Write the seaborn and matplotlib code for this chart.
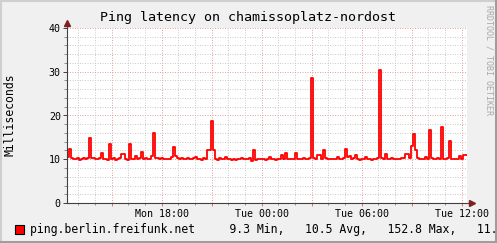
import matplotlib
matplotlib.use("Agg")
import matplotlib.pyplot as plt
import seaborn as sns
import pandas as pd
import numpy as np
from matplotlib.ticker import MultipleLocator, FuncFormatter
from matplotlib.patches import Rectangle
from matplotlib.lines import Line2D

# ---------------- data ----------------
title = "Ping latency on chamissoplatz-nordost"
series_name = "ping.berlin.freifunk.net"
y_label = "Milliseconds"
watermark = "RRDTOOL / TOBI OETIKER"
stats_min = "9.3 Min,"
stats_avg = "10.5 Avg,"
stats_max = "152.8 Max,"
stats_last = "11."

start_hour = 12.32      # Mon 12:19
step_hours = 0.12       # sample spacing

latency_ms = [
    10.4, 12.3, 10.2, 10.1, 10.0, 10.2, 9.9, 10.1, 10.3, 10.0,
    10.2, 14.8, 10.3, 10.2, 10.1, 10.0, 10.2, 11.4, 10.1, 10.0,
    9.9, 13.5, 10.1, 10.2, 9.9, 10.0, 10.2, 11.2, 11.2, 10.0,
    9.9, 13.4, 10.1, 10.0, 10.7, 10.1, 10.2, 11.6, 10.1, 10.2,
    10.1, 10.0, 10.7, 15.9, 10.3, 10.2, 10.1, 10.2, 10.1, 10.0,
    10.1, 10.0, 10.4, 12.7, 10.7, 10.2, 10.1, 10.3, 10.0, 10.1,
    10.2, 10.1, 10.0, 10.2, 10.4, 10.1, 10.0, 9.9, 10.2, 10.1,
    12.0, 12.0, 18.7, 12.0, 10.1, 9.9, 10.2, 10.1, 10.0, 10.4,
    10.1, 10.0, 9.9, 10.0, 9.9, 10.1, 10.0, 10.2, 10.0, 10.1,
    10.0, 10.3, 9.6, 12.0, 9.8, 10.1, 10.0, 10.0, 10.1, 9.9,
    10.0, 10.4, 10.0, 10.0, 9.9, 10.1, 10.0, 11.0, 10.1, 11.4,
    10.0, 10.1, 10.0, 10.0, 11.4, 10.1, 10.0, 10.0, 10.2, 10.1,
    10.0, 10.3, 28.6, 10.2, 10.0, 11.0, 11.0, 10.1, 12.1, 10.2,
    10.0, 10.1, 10.0, 10.1, 10.0, 10.6, 10.1, 10.0, 10.2, 12.3,
    10.4, 10.8, 10.1, 10.2, 10.9, 10.1, 9.9, 10.0, 10.1, 10.5,
    10.0, 10.1, 9.9, 10.0, 10.1, 10.2, 30.4, 10.3, 10.0, 11.1,
    10.1, 10.0, 10.2, 10.0, 10.1, 10.0, 10.1, 10.2, 10.3, 11.1,
    11.1, 10.2, 13.0, 15.8, 12.0, 10.2, 10.1, 10.0, 10.1, 10.6,
    10.1, 16.7, 10.2, 10.1, 10.0, 10.2, 10.1, 17.4, 10.1, 10.0,
    10.2, 14.2, 10.1, 10.0, 10.1, 10.0, 10.7, 10.1, 10.9, 10.9,
]

tick_hours = [18, 24, 30, 36]
tick_labels = ["Mon 18:00", "Tue 00:00", "Tue 06:00", "Tue 12:00"]
y_ticks = [0, 10, 20, 30, 40]

# ---------------- figure ----------------
W, H = 497, 243
DPI = 100
mono = "DejaVu Sans Mono"
plt.rcParams["font.family"] = [mono]

fig = plt.figure(figsize=(W / DPI, H / DPI), dpi=DPI, facecolor="#F0F0F0")
ax = fig.add_axes([67 / W, 40 / H, 400 / W, 175 / H])
ax.set_facecolor("#FFFFFF")

n = len(latency_ms)
hours = start_hour + step_hours * np.arange(n + 1)
vals = latency_ms + [latency_ms[-1]]
df = pd.DataFrame({"hour": hours, "ms": vals})
sns.lineplot(data=df, x="hour", y="ms", ax=ax, color="#FF0000", linewidth=1.3,
             drawstyle="steps-post", estimator=None, sort=False, zorder=5)
for ln in ax.lines:
    ln.set_color("#FF0000")
    ln.set_alpha(1.0)
    ln.set_linewidth(1.3)
    ln.set_antialiased(True)

x0, x1 = start_hour, start_hour + 24.0
ax.set_xlim(x0, x1)
ax.set_ylim(y_ticks[0], y_ticks[-1])

# grid
ax.xaxis.set_major_locator(MultipleLocator(3))
ax.xaxis.set_minor_locator(MultipleLocator(1))
ax.yaxis.set_major_locator(MultipleLocator(10))
ax.yaxis.set_minor_locator(MultipleLocator(2))
label_map = dict(zip(tick_hours, tick_labels))
ax.xaxis.set_major_formatter(FuncFormatter(lambda v, p: label_map.get(int(round(v)), "") if abs(v - round(v)) < 1e-6 else ""))
ax.yaxis.set_major_formatter(FuncFormatter(lambda v, p: f"{int(v)}" if int(v) in y_ticks else ""))
ax.set_axisbelow(True)
ax.grid(which="minor", color="#CCCCCC", linestyle=(0, (1, 1.5)), linewidth=0.72)
ax.grid(which="major", color="#EBA0A0", linestyle=(0, (1, 1.5)), linewidth=0.72)

ax.tick_params(axis="x", which="major", length=2.5, width=0.7, color="#E07070",
               labelsize=7.2, pad=2.0, labelcolor="black")
ax.tick_params(axis="x", which="minor", length=1.5, width=0.7, color="#909090")
ax.tick_params(axis="y", which="major", length=3, width=0.7, color="#404040",
               labelsize=7.2, pad=1.5, labelcolor="black")
ax.tick_params(axis="y", which="minor", length=2, width=0.7, color="#909090")
for lab in ax.get_xticklabels() + ax.get_yticklabels():
    lab.set_family(mono)

ax.set_xlabel("")
ax.set_ylabel("")
for s in ["top", "right", "left", "bottom"]:
    ax.spines[s].set_visible(False)

# axes with arrows
axis_col = "#404040"
arrow_col = "#7F1F1F"
ax.add_line(Line2D([0, 1 + 5 / 400], [0, 0], transform=ax.transAxes, color=axis_col,
                   linewidth=0.8, clip_on=False, zorder=6))
ax.add_line(Line2D([0, 0], [0, 1 + 5 / 175], transform=ax.transAxes, color=axis_col,
                   linewidth=0.8, clip_on=False, zorder=6))
ax.plot([1 + 5 / 400], [0], marker=">", markersize=4.5, color=arrow_col,
        transform=ax.transAxes, clip_on=False, zorder=7)
ax.plot([0], [1 + 5 / 175], marker="^", markersize=4.5, color=arrow_col,
        transform=ax.transAxes, clip_on=False, zorder=7)

# texts
fig.text(0.5, 1 - 18 / H, title, ha="center", va="center", fontsize=9.6, family=mono)
fig.text(10 / W, 1 - 115 / H, y_label, ha="center", va="center", rotation=90,
         fontsize=8.3, family=mono)
fig.text(488.5 / W, 1 - 5 / H, watermark, ha="center", va="top", rotation=270,
         fontsize=6.0, family=mono, color="#A8A8A8")

# legend
fig.patches.append(Rectangle((15 / W, 9.5 / H), 9 / W, 9 / H, transform=fig.transFigure,
                             facecolor="#FF0000", edgecolor="black", linewidth=0.8,
                             figure=fig))
legend_line = (f"{series_name}     {stats_min}   {stats_avg}   {stats_max}   {stats_last}")
fig.text(30 / W, 14 / H, legend_line, ha="left", va="center", fontsize=8.3, family=mono)

# frame (3D shading)
def hline(y, x_a, x_b, c, lw):
    fig.add_artist(Line2D([x_a, x_b], [y, y], transform=fig.transFigure, color=c,
                          linewidth=lw, zorder=20))
def vline(x, y_a, y_b, c, lw):
    fig.add_artist(Line2D([x, x], [y_a, y_b], transform=fig.transFigure, color=c,
                          linewidth=lw, zorder=20))
hline(1 - 1 / H, 0, 1, "#CFCFCF", 1.5)
vline(1 / W, 0, 1, "#CFCFCF", 1.5)
hline(1.5 / H, 0, 1, "#9E9E9E", 2.2)
vline(1 - 1.5 / W, 0, 1, "#9E9E9E", 2.2)

fig.savefig("out.png", dpi=DPI, facecolor=fig.get_facecolor())
